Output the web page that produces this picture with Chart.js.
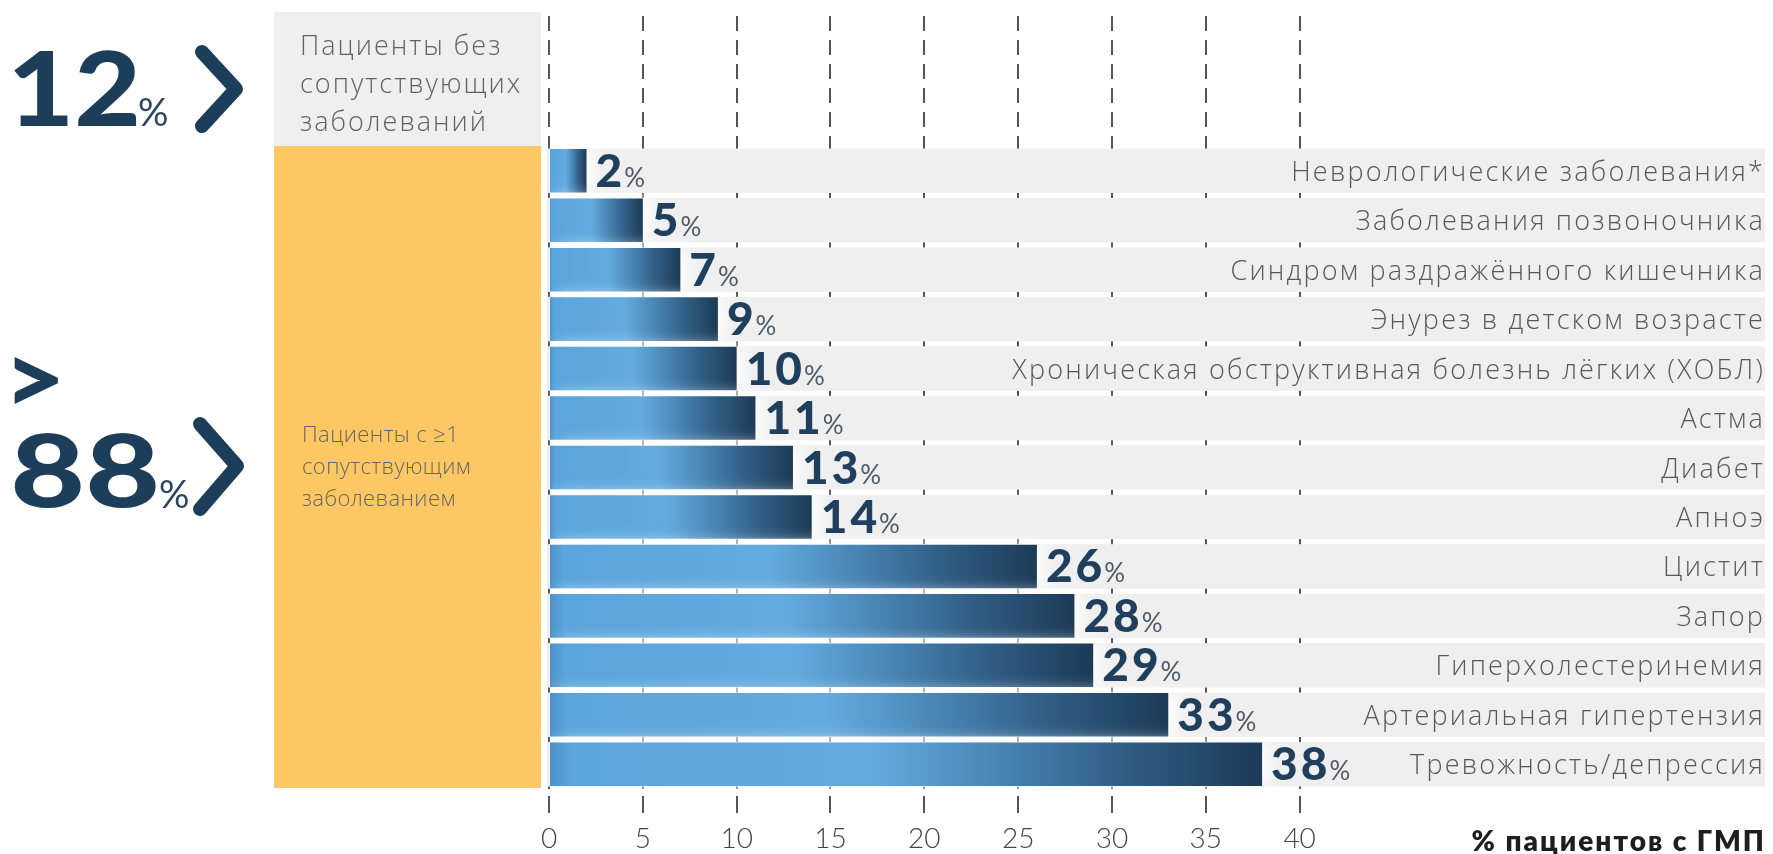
<!DOCTYPE html>
<html>
<head>
<meta charset="utf-8">
<script src="https://cdn.jsdelivr.net/npm/chart.js@4.4.1/dist/chart.umd.min.js"></script>
<style>
html,body{margin:0;padding:0;background:#ffffff;overflow:hidden}
#wrap{position:relative;width:1773px;height:854px}
canvas{display:block}
</style>
</head>
<body>
<div id="wrap"><canvas id="chart" width="1773" height="854"></canvas></div>
<script>
// ---- DATA ----
const categories = [
  'Неврологические заболевания*',
  'Заболевания позвоночника',
  'Синдром раздражённого кишечника',
  'Энурез в детском возрасте',
  'Хроническая обструктивная болезнь лёгких (ХОБЛ)',
  'Астма',
  'Диабет',
  'Апноэ',
  'Цистит',
  'Запор',
  'Гиперхолестеринемия',
  'Артериальная гипертензия',
  'Тревожность/депрессия'
];
const values = [2, 5, 7, 9, 10, 11, 13, 14, 26, 28, 29, 33, 38];
const xTickValues = [0, 5, 10, 15, 20, 25, 30, 35, 40];
const axisTitle = '% пациентов с ГМП';
const groupNoneValue = '12';
const groupNoneLabel = ['Пациенты без', 'сопутствующих', 'заболеваний'];
const groupSomePrefix = '>';
const groupSomeValue = '88';
const groupSomeLabel = ['Пациенты с \u22651', 'сопутствующим', 'заболеванием'];

// ---- STYLE ----
const NAVY = '#1d3e5b';
const GRID = '#555555';
const BAND = '#efefef';

function barGradient(c) {
  const chart = c.chart;
  if (!chart.chartArea || c.type !== 'data') return '#5aa5dc';
  const xs = chart.scales.x;
  const x0 = xs.getPixelForValue(0);
  const x1 = xs.getPixelForValue(c.raw);
  const g = chart.ctx.createLinearGradient(x0, 0, x1, 0);
  g.addColorStop(0, '#4b91c9');
  g.addColorStop(0.03, '#5aa5dc');
  g.addColorStop(0.45, '#63abdf');
  g.addColorStop(0.62, '#4a87b7');
  g.addColorStop(0.8, '#315f86');
  g.addColorStop(1, '#1c3b57');
  return g;
}

function drawChevron(ctx, x1, yTop, x2, yMid, yBot) {
  ctx.save();
  ctx.strokeStyle = NAVY;
  ctx.lineWidth = 14;
  ctx.lineCap = 'round';
  ctx.lineJoin = 'round';
  ctx.beginPath();
  ctx.moveTo(x1, yTop);
  ctx.lineTo(x2, yMid);
  ctx.lineTo(x1, yBot);
  ctx.stroke();
  ctx.restore();
}

// draw a text so that its inked box fills [x0,x1]x[y0,y1]
function fitText(ctx, text, font, x0, y0, x1, y1) {
  ctx.save();
  ctx.font = font;
  ctx.letterSpacing = '0px';
  ctx.textAlign = 'left';
  ctx.textBaseline = 'alphabetic';
  const m = ctx.measureText(text);
  const bw = m.actualBoundingBoxLeft + m.actualBoundingBoxRight;
  const bh = m.actualBoundingBoxAscent + m.actualBoundingBoxDescent;
  const sx = (x1 - x0) / bw, sy = (y1 - y0) / bh;
  ctx.translate(x0 + m.actualBoundingBoxLeft * sx, y0 + m.actualBoundingBoxAscent * sy);
  ctx.scale(sx, sy);
  ctx.fillText(text, 0, 0);
  ctx.restore();
}

const decor = {
  id: 'decor',
  beforeDraw(chart) {
    const ctx = chart.ctx;
    const area = chart.chartArea;
    const xs = chart.scales.x;
    ctx.save();
    ctx.fillStyle = '#ffffff';
    ctx.fillRect(0, 0, chart.width, chart.height);

    // left panel boxes
    const boxL = 274, boxR = 541;
    ctx.fillStyle = '#efefef';
    ctx.fillRect(boxL, 12, boxR - boxL, area.top - 12);
    ctx.fillStyle = '#fdc764';
    ctx.fillRect(boxL, area.top, boxR - boxL, area.bottom - area.top - 1);

    // dashed gridline extensions in the header zone
    ctx.strokeStyle = GRID;
    ctx.lineWidth = 2;
    ctx.setLineDash([15, 9]);
    xTickValues.forEach(v => {
      const px = Math.round(xs.getPixelForValue(v));
      ctx.beginPath();
      ctx.moveTo(px, 16);
      ctx.lineTo(px, area.top);
      ctx.stroke();
    });
    ctx.setLineDash([]);

    // box texts
    ctx.fillStyle = '#626262';
    ctx.textBaseline = 'alphabetic';
    ctx.textAlign = 'left';
    ctx.font = '300 27px "Open Sans"';
    ctx.letterSpacing = '2px';
    groupNoneLabel.forEach((t, i) => ctx.fillText(t, 300, 55 + i * 38));
    ctx.fillStyle = '#666666';
    ctx.font = '300 22px "Open Sans"';
    ctx.letterSpacing = '0.4px';
    groupSomeLabel.forEach((t, i) => ctx.fillText(t, 302, 442 + i * 32));
    ctx.letterSpacing = '0px';

    // big numbers
    ctx.fillStyle = NAVY;
    fitText(ctx, groupNoneValue, '900 106px Lato', 14, 50, 136, 126);
    fitText(ctx, groupSomeValue, '900 106px Lato', 14, 433, 156, 508);
    fitText(ctx, groupSomePrefix, '900 120px Lato', 14, 356, 58, 404);

    ctx.font = '400 38px Lato';
    ctx.fillStyle = '#2c4660';
    ctx.fillText('%', 138, 126);
    ctx.fillText('%', 159, 508);

    drawChevron(ctx, 202, 52, 236, 89, 126);
    drawChevron(ctx, 200, 424, 237, 466, 509);

    // axis title
    ctx.fillStyle = '#1e1e1e';
    ctx.font = '800 28px Lato';
    ctx.textAlign = 'right';
    ctx.letterSpacing = '2px';
    ctx.fillText(axisTitle, 1766, 851);
    ctx.restore();
  },
  beforeDatasetsDraw(chart) {
    const ctx = chart.ctx;
    const area = chart.chartArea;
    const xs = chart.scales.x, ys = chart.scales.y;
    const pitch = ys.getPixelForValue(1) - ys.getPixelForValue(0);
    const h = pitch - 5;
    const left = xs.getPixelForValue(0) - 2;
    ctx.save();
    ctx.fillStyle = BAND;
    categories.forEach((c, i) => {
      const cy = ys.getPixelForValue(i);
      ctx.fillRect(left, cy - h / 2, area.right - left, h);
    });
    ctx.restore();
  },
  beforeDatasetDraw(chart) {
    const ctx = chart.ctx;
    ctx.save();
    ctx.shadowColor = 'rgba(255,255,255,0.95)';
    ctx.shadowBlur = 16;
    ctx.shadowOffsetX = 8;
  },
  afterDatasetDraw(chart) {
    chart.ctx.restore();
  },
  afterDatasetsDraw(chart) {
    const ctx = chart.ctx;
    const area = chart.chartArea;
    const meta = chart.getDatasetMeta(0);
    ctx.save();
    ctx.textBaseline = 'alphabetic';
    meta.data.forEach((bar, i) => {
      const num = String(values[i]);
      const x = bar.x + 9;
      const y = bar.y + 16;
      ctx.textAlign = 'left';
      ctx.fillStyle = '#1f3f5c';
      ctx.font = '900 46px Lato';
      ctx.letterSpacing = '3px';
      ctx.fillText(num, x, y);
      const w = ctx.measureText(num).width;
      ctx.fillStyle = '#4d5a66';
      ctx.font = '400 26px Lato';
      ctx.letterSpacing = '0px';
      ctx.fillText('%', x + w - 1, y);

      ctx.textAlign = 'right';
      ctx.fillStyle = '#585858';
      ctx.font = '300 27px "Open Sans"';
      ctx.letterSpacing = '2.2px';
      ctx.fillText(categories[i], area.right, bar.y + 10);
    });
    ctx.restore();
  }
};

new Chart(document.getElementById('chart'), {
  type: 'bar',
  data: {
    labels: categories,
    datasets: [{
      data: values,
      backgroundColor: barGradient,
      borderWidth: 0,
      barPercentage: 0.88,
      categoryPercentage: 1
    }]
  },
  options: {
    indexAxis: 'y',
    responsive: false,
    animation: false,
    devicePixelRatio: 1,
    layout: { padding: { left: 549, right: 8, top: 146, bottom: 0 } },
    plugins: { legend: { display: false }, tooltip: { enabled: false } },
    scales: {
      y: { display: false },
      x: {
        type: 'linear',
        min: 0,
        max: 64.8,
        position: 'bottom',
        afterBuildTicks: s => { s.ticks = xTickValues.map(v => ({ value: v })); },
        afterFit: s => { s.height = 65; },
        border: { display: false },
        grid: {
          color: GRID,
          lineWidth: 2,
          drawOnChartArea: true,
          drawTicks: true,
          tickLength: 24,
          tickWidth: 2,
          tickColor: GRID,
          tickBorderDash: [0, 7, 17, 100]
        },
        ticks: {
          padding: 9,
          autoSkip: false,
          maxRotation: 0,
          color: '#444444',
          font: { family: 'Lato', size: 28, weight: 300 }
        }
      }
    }
  },
  plugins: [decor]
});
</script>
</body>
</html>
